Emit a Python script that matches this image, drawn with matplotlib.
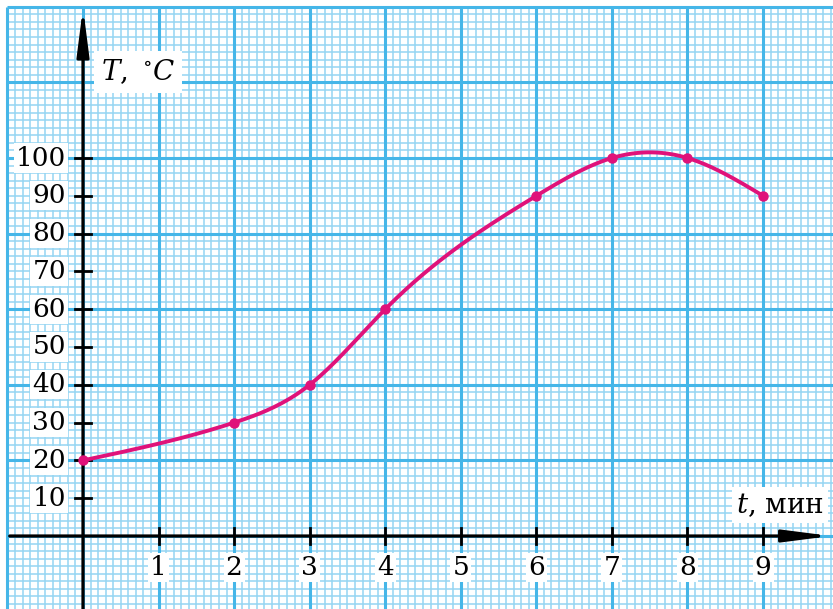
import numpy as np
import matplotlib
matplotlib.use("Agg")
import matplotlib.pyplot as plt

# Heating curve: temperature vs time
t_min = [0, 2, 3, 4, 6, 7, 8, 9]
temp_c = [20, 30, 40, 60, 90, 100, 100, 90]

x_ticks = [1, 2, 3, 4, 5, 6, 7, 8, 9]
y_ticks = [10, 20, 30, 40, 50, 60, 70, 80, 90, 100]

CURVE = "#E0127A"
GRID_MAJOR = "#45B6E8"
GRID_MINOR = "#95D5F2"
SERIF = "DejaVu Serif"

plt.rcParams["mathtext.fontset"] = "dejavuserif"


def natural_spline(x, y, n=400):
    x = np.asarray(x, float)
    y = np.asarray(y, float)
    k = len(x)
    h = np.diff(x)
    A = np.zeros((k, k))
    b = np.zeros(k)
    A[0, 0] = A[-1, -1] = 1.0
    for i in range(1, k - 1):
        A[i, i - 1] = h[i - 1]
        A[i, i] = 2 * (h[i - 1] + h[i])
        A[i, i + 1] = h[i]
        b[i] = 6 * ((y[i + 1] - y[i]) / h[i] - (y[i] - y[i - 1]) / h[i - 1])
    M = np.linalg.solve(A, b)
    xs = np.linspace(x[0], x[-1], n)
    idx = np.clip(np.searchsorted(x, xs) - 1, 0, k - 2)
    x0, x1 = x[idx], x[idx + 1]
    hh = x1 - x0
    a = (x1 - xs) / hh
    c = (xs - x0) / hh
    ys = (a * y[idx] + c * y[idx + 1]
          + ((a ** 3 - a) * M[idx] + (c ** 3 - c) * M[idx + 1]) * hh ** 2 / 6)
    return xs, ys


W, H = 833, 609
fig = plt.figure(figsize=(W / 100, H / 100), dpi=100)
ax = fig.add_axes([0, 0, 1, 1])
sx, sy = 75.56, 3.78          # pixels per unit
ox, oy = 83, 536              # pixel position of the origin
ax.set_xlim(-ox / sx, (W - ox) / sx)
ax.set_ylim(-(H - oy) / sy, oy / sy)
ax.axis("off")

# graph paper
x_left, y_top = -1.0, 140.0
x_right, y_bot = (W - ox) / sx + 0.1, -(H - oy) / sy - 1
for gx in np.arange(-1.0, 10.01, 0.1):
    major = abs(gx - round(gx)) < 1e-6
    ax.plot([gx, gx], [y_bot, y_top], color=GRID_MAJOR if major else GRID_MINOR,
            lw=2.2 if major else 1.1, zorder=1 if major else 0.5,
            solid_capstyle="butt")
for gy in np.arange(-20, 140.01, 2):
    major = int(round(gy)) % 20 == 0
    ax.plot([x_left, x_right], [gy, gy], color=GRID_MAJOR if major else GRID_MINOR,
            lw=2.2 if major else 1.1, zorder=1 if major else 0.5,
            solid_capstyle="butt")

# axes with arrows
arrow = dict(arrowstyle="-|>,head_length=2.8,head_width=0.36",
             color="black", lw=2.3, shrinkA=0, shrinkB=0)
ax.annotate("", xy=(0, 139.8), xytext=(0, y_bot), arrowprops=arrow, zorder=5)
ax.annotate("", xy=(9.9, 0), xytext=(-0.97, 0), arrowprops=arrow, zorder=5)

tick_dx = 8 / sx
tick_dy = 8 / sy
for yv in y_ticks:
    ax.plot([-tick_dx, tick_dx], [yv, yv], color="black", lw=2.0, zorder=5)
    ax.text(-0.225, yv, str(yv), ha="right", va="center", family=SERIF,
            fontsize=19, zorder=6,
            bbox=dict(boxstyle="square,pad=0.08", fc="white", ec="none"))
for xv in x_ticks:
    ax.plot([xv, xv], [-tick_dy, tick_dy], color="black", lw=2.0, zorder=5)
    ax.text(xv, -8.3, str(xv), ha="center", va="center", family=SERIF,
            fontsize=19, zorder=6,
            bbox=dict(boxstyle="square,pad=0.08", fc="white", ec="none"))

# axis titles
ax.text((138 - ox) / sx, (oy - 72) / sy, r"$T,\ ^{\circ}C$", ha="center",
        va="center", fontsize=20, zorder=6,
        bbox=dict(boxstyle="square,pad=0.25", fc="white", ec="none"))
ax.text((780 - ox) / sx, (oy - 505) / sy, r"$t$, мин", ha="center",
        va="center", fontsize=20, family=SERIF, zorder=6,
        bbox=dict(boxstyle="square,pad=0.15", fc="white", ec="none"))

# heating curve
xs, ys = natural_spline(t_min, temp_c)
ax.plot(xs, ys, color=CURVE, lw=2.8, zorder=7, solid_capstyle="round")
ax.plot(t_min, temp_c, "o", color=CURVE, ms=6.5, zorder=8)

fig.savefig("out.png", dpi=100, facecolor="white")
